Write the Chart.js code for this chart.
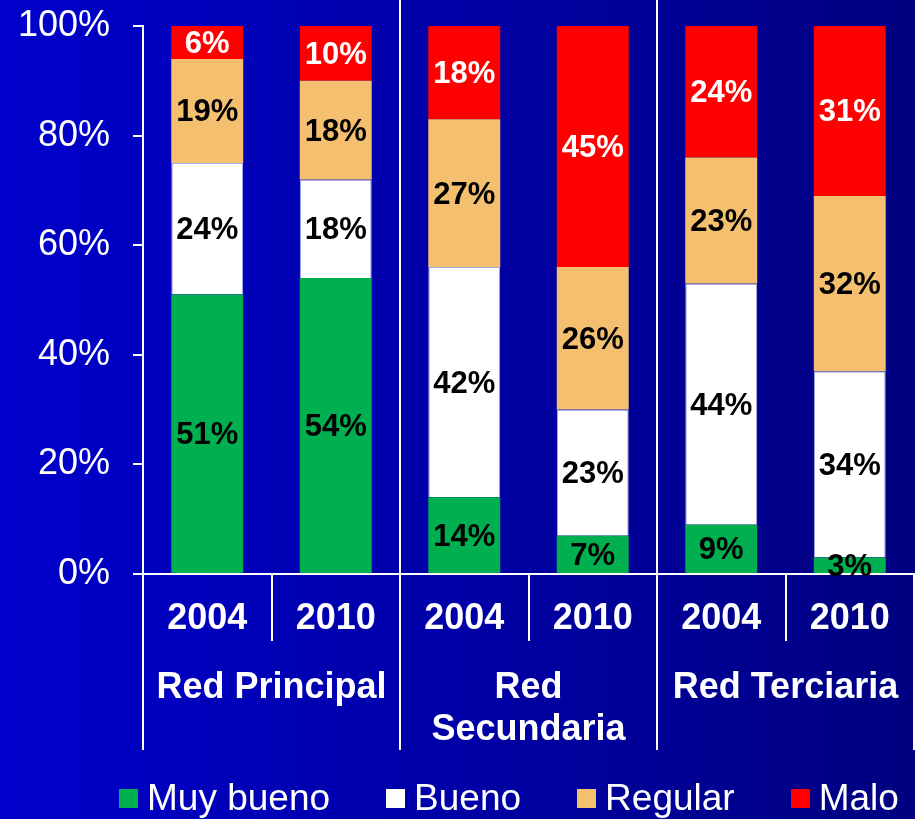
<!DOCTYPE html>
<html>
<head>
<meta charset="utf-8">
<title>Estado de la red vial</title>
<script src="https://cdn.jsdelivr.net/npm/chart.js@4.4.1/dist/chart.umd.min.js"></script>
<style>
  html, body { margin: 0; padding: 0; }
  body {
    width: 915px; height: 819px; overflow: hidden;
    background: linear-gradient(to right, #0000cc, #000080);
    font-family: "Liberation Sans", Arial, sans-serif;
  }
  #wrap { position: relative; width: 915px; height: 819px; }
  #leyenda {
    position: absolute; left: 119px; top: 777px;
    display: flex; align-items: center;
    color: #fff; font-size: 37px; line-height: 42px; white-space: nowrap;
  }
  #leyenda .item { display: flex; align-items: center; margin-right: 56px; }
  #leyenda .caja { width: 19px; height: 19px; margin-right: 9px; }
</style>
</head>
<body>
<div id="wrap">
  <canvas id="estado" width="915" height="819"></canvas>
  <div id="leyenda"></div>
</div>
<script>
const anios = ['2004', '2010', '2004', '2010', '2004', '2010'];
const redes = ['Red Principal', ['Red', 'Secundaria'], 'Red Terciaria'];

// porcentaje de la red en cada estado
const muyBueno = [51, 54, 14, 7, 9, 3];
const bueno    = [24, 18, 42, 23, 44, 34];
const regular  = [19, 18, 27, 26, 23, 32];
const malo     = [6, 10, 18, 45, 24, 31];

const yTicks = [0, 20, 40, 60, 80, 100];

const fuente = '"Liberation Sans", Arial, sans-serif';
Chart.defaults.font.family = fuente;

// etiquetas con el valor dentro de cada tramo
const etiquetas = {
  id: 'etiquetas',
  afterDatasetsDraw(chart) {
    const { ctx, chartArea } = chart;
    ctx.save();
    ctx.font = 'bold 31px ' + fuente;
    ctx.textAlign = 'center';
    ctx.textBaseline = 'middle';
    chart.data.datasets.forEach((ds, i) => {
      chart.getDatasetMeta(i).data.forEach((bar, j) => {
        const top = Math.max(bar.y, chartArea.top);
        ctx.fillStyle = ds.labelColor;
        ctx.fillText(ds.data[j] + '%', bar.x, (top + bar.base) / 2 + 2);
      });
    });
    ctx.restore();
  }
};

// lineas que separan las tres redes, hasta el borde superior
const separadores = {
  id: 'separadores',
  beforeDatasetsDraw(chart) {
    const { ctx, chartArea } = chart;
    const x2 = chart.scales.x2;
    ctx.save();
    ctx.strokeStyle = '#fff';
    ctx.lineWidth = 2;
    for (let i = 1; i < redes.length; i++) {
      const x = (x2.getPixelForTick(i - 1) + x2.getPixelForTick(i)) / 2;
      ctx.beginPath();
      ctx.moveTo(x, 0);
      ctx.lineTo(x, chartArea.bottom);
      ctx.stroke();
    }
    ctx.restore();
  }
};

const chart = new Chart(document.getElementById('estado'), {
  type: 'bar',
  data: {
    labels: anios,
    datasets: [
      { label: 'Muy bueno', data: muyBueno, backgroundColor: '#00b050', labelColor: '#000' },
      { label: 'Bueno', data: bueno, backgroundColor: '#ffffff', labelColor: '#000',
        borderColor: 'rgba(190,190,235,0.9)', borderWidth: 1 },
      { label: 'Regular', data: regular, backgroundColor: '#f4c06f', labelColor: '#000' },
      { label: 'Malo', data: malo, backgroundColor: '#ff0000', labelColor: '#fff' }
    ]
  },
  options: {
    responsive: false,
    animation: false,
    clip: 0,
    barPercentage: 0.56,
    categoryPercentage: 1,
    layout: { padding: { top: 26, right: 1, bottom: 69, left: 0 } },
    plugins: {
      legend: { display: false },
      tooltip: { enabled: false }
    },
    scales: {
      x: {
        stacked: true,
        weight: 0,
        grid: { offset: true, drawOnChartArea: false, color: '#fff', lineWidth: 2, tickLength: 67 },
        border: { color: '#fff', width: 2 },
        ticks: { color: '#fff', font: { size: 36, weight: 'bold' }, padding: -44, maxRotation: 0, autoSkip: false },
        afterFit(s) { s.height = 67; }
      },
      x2: {
        type: 'category',
        labels: redes,
        position: 'bottom',
        weight: 1,
        offset: true,
        grid: { offset: true, drawOnChartArea: false, color: '#fff', lineWidth: 2, tickLength: 109 },
        border: { display: false },
        ticks: { color: '#fff', font: { size: 36, weight: 'bold', lineHeight: 1.17 }, padding: -83, maxRotation: 0, autoSkip: false },
        afterFit(s) { s.height = 109; }
      },
      y: {
        stacked: true,
        min: 0,
        max: 100,
        afterBuildTicks(s) { s.ticks = yTicks.map(v => ({ value: v })); },
        ticks: { color: '#fff', font: { size: 36 }, padding: 23, callback: v => v + '%' },
        grid: { drawOnChartArea: false, color: '#fff', lineWidth: 2, tickLength: 10 },
        border: { color: '#fff', width: 2 },
        afterFit(s) {
          s.width = 143;
          // el margen de las etiquetas no debe bajar el area del grafico
          s.paddingTop = 0;
          s.paddingBottom = 0;
        }
      }
    }
  },
  plugins: [separadores, etiquetas]
});

// leyenda en HTML a partir de los datasets
const leyenda = document.getElementById('leyenda');
chart.data.datasets.forEach(ds => {
  const item = document.createElement('span');
  item.className = 'item';
  const caja = document.createElement('span');
  caja.className = 'caja';
  caja.style.background = ds.backgroundColor;
  item.appendChild(caja);
  item.appendChild(document.createTextNode(ds.label));
  leyenda.appendChild(item);
});
</script>
</body>
</html>
